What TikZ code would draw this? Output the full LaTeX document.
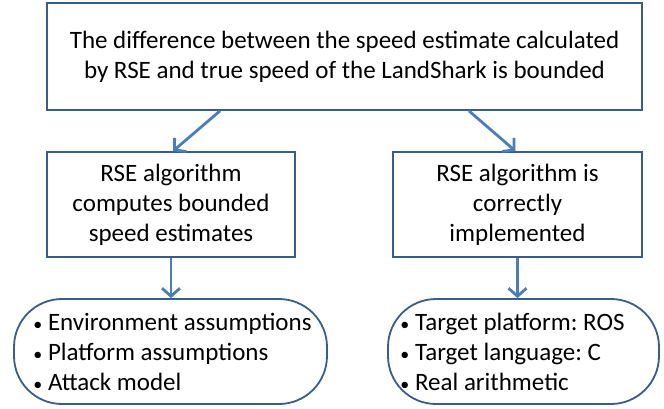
\documentclass[tikz,border=0pt]{standalone}
\usepackage{fontspec}
\setmainfont{Carlito}
\usetikzlibrary{arrows.meta}

\definecolor{boxline}{HTML}{385D8A}
\definecolor{arrline}{HTML}{4A7EBB}
\newcommand{\bul}{{\fontsize{18}{18}\selectfont\textbullet}\ }
\frenchspacing

\begin{document}
\begin{tikzpicture}
  [x=1pt,y=1pt,
   every node/.style={draw=boxline,line width=1.8pt,fill=white,inner sep=0pt,
     font=\fontsize{25}{30}\selectfont,align=center},
   claim/.style={rectangle},
   assume/.style={rectangle,rounded corners=48pt,align=left},
   arr/.style={arrline,line width=2.8pt,-{Straight Barb[length=8pt,width=18pt,line width=2.8pt]}}]
  \useasboundingbox (0,0) rectangle (664,408);

  \node[claim,minimum width=595pt,minimum height=107pt] (top) at (344.5,351.5)
    {The difference between the speed estimate calculated\\by RSE and true speed of the LandShark is bounded};
  \node[claim,minimum width=248pt,minimum height=105pt] (est) at (171,203.5)
    {RSE algorithm\\computes bounded\\speed estimates};
  \node[claim,minimum width=249pt,minimum height=105pt] (impl) at (517.5,203.5)
    {RSE algorithm is\\correctly\\implemented};
  \node[assume,minimum width=313pt,minimum height=105pt] (env) at (170.5,56.5)
    {\hspace*{4pt}\bul Environment assumptions\\\hspace*{4pt}\bul Platform assumptions\\\hspace*{4pt}\bul Attack model};
  \node[assume,minimum width=271pt,minimum height=105pt] (tgt) at (523.5,56.5)
    {\bul Target platform: ROS\hspace*{22pt}\\\bul Target language: C\\\bul Real arithmetic};

  \draw[arr] ([xshift=-124.5pt]top.south) -- ([xshift=2pt]est.north);
  \draw[arr] ([xshift=124.5pt]top.south) -- ([xshift=-2pt]impl.north);
  \draw[arr] (est.south) -- (est.south |- env.north);
  \draw[arr] (impl.south) -- (impl.south |- tgt.north);

\end{tikzpicture}
\end{document}
